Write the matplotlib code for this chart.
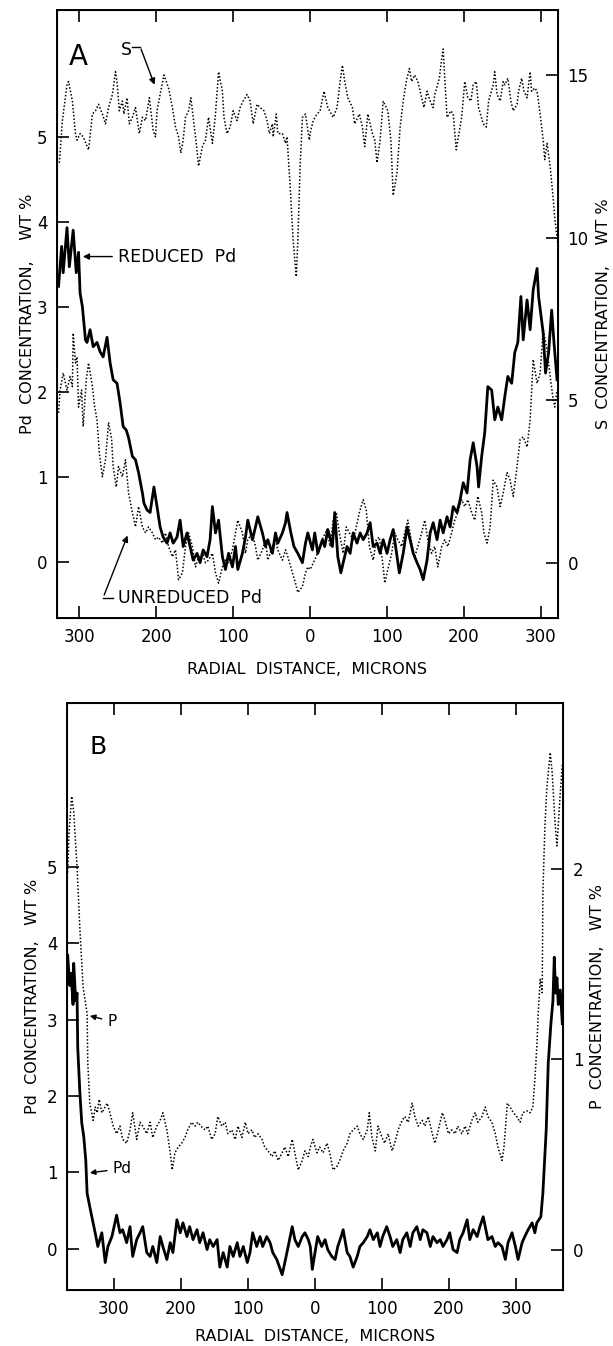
import numpy as np
import matplotlib
matplotlib.use("Agg")
import matplotlib.pyplot as plt
from matplotlib.ticker import FuncFormatter

# ---- panel A : (radial distance in microns, value) ----
S_A = [(-326, 12.3), (-322, 13.6), (-316, 14.7), (-314, 14.8), (-309, 14.2), (-305, 13.2), (-303, 13.0),
       (-299, 13.2), (-295, 13.1), (-288, 12.7), (-283, 13.8), (-279, 13.9), (-275, 14.1), (-270, 13.8),
       (-266, 13.5), (-262, 14.0), (-257, 14.4), (-253, 15.1), (-251, 14.8), (-248, 13.9), (-244, 14.2),
       (-242, 13.8), (-238, 14.3), (-235, 13.5), (-231, 13.7), (-227, 14.0), (-222, 13.2), (-218, 13.7),
       (-214, 13.6), (-209, 14.3), (-204, 13.3), (-201, 13.1), (-199, 13.9), (-195, 14.4), (-190, 15.0),
       (-184, 14.6), (-179, 14.0), (-175, 13.4), (-171, 13.1), (-168, 12.6), (-165, 13.0), (-162, 13.7),
       (-158, 13.9), (-155, 14.3), (-152, 13.7), (-148, 12.9), (-145, 12.2), (-140, 12.8), (-136, 13.0),
       (-132, 13.7), (-127, 12.9), (-123, 13.8), (-119, 15.1), (-114, 14.5), (-112, 13.7), (-108, 13.2),
       (-104, 13.4), (-100, 13.9), (-95, 13.6), (-91, 14.0), (-87, 14.2), (-82, 14.4), (-78, 14.2),
       (-74, 13.5), (-69, 14.1), (-65, 14.0), (-60, 13.9), (-56, 13.6), (-53, 13.2), (-49, 13.5),
       (-48, 13.1), (-44, 13.8), (-42, 13.2), (-36, 13.2), (-32, 12.9), (-30, 13.1), (-26, 11.6),
       (-22, 9.9), (-18, 8.8), (-16, 9.9), (-13, 12.2), (-10, 13.7), (-6, 13.8), (-1, 13.0), (0, 13.2),
       (4, 13.6), (9, 13.8), (13, 13.9), (18, 14.5), (23, 14.0), (30, 13.7), (35, 14.0), (39, 14.8),
       (42, 15.3), (45, 14.8), (49, 14.3), (55, 14.0), (58, 13.5), (64, 13.8), (68, 13.4), (71, 12.8),
       (75, 13.8), (81, 13.2), (84, 13.0), (87, 12.3), (91, 13.0), (95, 14.2), (99, 14.0), (101, 13.9),
       (105, 13.0), (108, 11.3), (113, 12.0), (117, 13.4), (121, 14.2), (125, 14.8), (129, 15.2),
       (132, 14.8), (136, 15.0), (140, 14.8), (145, 14.3), (148, 14.0), (152, 14.5), (156, 14.2),
       (160, 14.0), (162, 14.4), (168, 14.9), (171, 15.5), (173, 15.8), (175, 14.9), (178, 13.7),
       (183, 13.9), (186, 13.8), (190, 12.7), (192, 13.0), (197, 13.7), (201, 14.8), (205, 14.3),
       (209, 14.2), (212, 14.7), (216, 14.8), (219, 14.0), (225, 13.5), (229, 13.4), (232, 14.2),
       (238, 14.7), (240, 15.1), (243, 14.4), (247, 14.2), (251, 14.8), (253, 14.7), (257, 14.9),
       (261, 14.2), (264, 13.9), (269, 14.1), (271, 14.5), (275, 14.9), (278, 14.5), (282, 14.3),
       (286, 15.1), (288, 14.5), (292, 14.6), (295, 14.5), (299, 13.8), (303, 13.0), (305, 12.4),
       (308, 12.9), (312, 12.2), (316, 11.2), (318, 10.6), (322, 9.8)]

REDUCED_A = [(-327, 3.24), (-323, 3.71), (-321, 3.40), (-316, 3.93), (-313, 3.47), (-308, 3.90), (-304, 3.40),
             (-301, 3.64), (-299, 3.16), (-296, 3.00), (-292, 2.61), (-290, 2.58), (-286, 2.73), (-282, 2.53),
             (-277, 2.58), (-273, 2.47), (-269, 2.41), (-264, 2.64), (-260, 2.34), (-256, 2.14), (-251, 2.10),
             (-247, 1.87), (-243, 1.59), (-239, 1.55), (-236, 1.46), (-231, 1.24), (-227, 1.20), (-223, 1.05),
             (-218, 0.81), (-216, 0.69), (-212, 0.61), (-208, 0.58), (-203, 0.88), (-199, 0.65), (-195, 0.41),
             (-191, 0.29), (-186, 0.22), (-182, 0.34), (-178, 0.22), (-173, 0.29), (-169, 0.49), (-165, 0.18),
             (-160, 0.34), (-156, 0.18), (-152, 0.02), (-147, 0.10), (-143, -0.01), (-139, 0.14), (-134, 0.06),
             (-130, 0.26), (-127, 0.65), (-123, 0.34), (-119, 0.49), (-114, 0.06), (-110, -0.09), (-106, 0.10),
             (-101, -0.06), (-97, 0.18), (-94, -0.09), (-88, 0.10), (-84, 0.29), (-81, 0.49), (-75, 0.26),
             (-71, 0.41), (-68, 0.53), (-62, 0.34), (-58, 0.18), (-55, 0.26), (-49, 0.10), (-45, 0.34),
             (-42, 0.22), (-36, 0.34), (-32, 0.46), (-30, 0.58), (-25, 0.34), (-21, 0.18), (-16, 0.10),
             (-10, -0.01), (-6, 0.22), (-3, 0.34), (3, 0.14), (6, 0.34), (10, 0.10), (16, 0.26), (19, 0.18),
             (23, 0.38), (29, 0.18), (32, 0.58), (36, 0.06), (40, -0.13), (43, -0.01), (48, 0.18), (52, 0.10),
             (56, 0.34), (61, 0.22), (65, 0.34), (69, 0.26), (74, 0.34), (78, 0.46), (82, 0.18), (87, 0.22),
             (91, 0.10), (95, 0.26), (100, 0.10), (104, 0.26), (108, 0.38), (113, 0.06), (116, -0.13),
             (121, 0.10), (126, 0.41), (130, 0.26), (134, 0.10), (139, -0.01), (143, -0.09), (147, -0.21),
             (152, 0.02), (156, 0.34), (160, 0.46), (165, 0.26), (169, 0.49), (173, 0.34), (178, 0.53),
             (182, 0.41), (186, 0.65), (191, 0.58), (195, 0.73), (199, 0.93), (204, 0.81), (208, 1.20),
             (212, 1.40), (217, 1.12), (219, 0.88), (223, 1.24), (227, 1.52), (231, 2.06), (236, 2.02),
             (240, 1.67), (244, 1.82), (249, 1.67), (253, 1.94), (257, 2.18), (262, 2.10), (266, 2.46),
             (270, 2.58), (274, 3.12), (277, 2.61), (282, 3.08), (286, 2.73), (290, 3.20), (295, 3.45),
             (297, 3.12), (303, 2.69), (306, 2.22), (310, 2.46), (314, 2.96), (317, 2.58), (321, 2.14)]

UNREDUCED_A = [(-327, 1.75), (-325, 2.02), (-321, 2.22), (-316, 2.02), (-312, 2.18), (-309, 2.06), (-308, 2.69),
               (-305, 2.34), (-303, 2.41), (-301, 1.82), (-297, 2.02), (-295, 1.59), (-291, 2.14), (-288, 2.34),
               (-283, 2.06), (-280, 1.82), (-277, 1.67), (-274, 1.28), (-270, 1.00), (-266, 1.20), (-262, 1.64),
               (-258, 1.44), (-256, 1.12), (-252, 0.88), (-249, 1.12), (-244, 1.00), (-240, 1.20), (-236, 0.81),
               (-231, 0.58), (-227, 0.41), (-223, 0.65), (-218, 0.41), (-214, 0.34), (-210, 0.41), (-205, 0.34),
               (-201, 0.26), (-197, 0.29), (-192, 0.22), (-188, 0.34), (-184, 0.18), (-179, 0.06), (-175, 0.14),
               (-171, -0.21), (-166, -0.13), (-162, 0.18), (-158, 0.34), (-153, 0.18), (-149, -0.06),
               (-145, 0.06), (-140, 0.10), (-136, -0.01), (-132, 0.02), (-127, 0.10), (-123, -0.13),
               (-119, -0.25), (-114, -0.06), (-110, 0.02), (-106, -0.01), (-101, 0.14), (-97, 0.34), (-94, 0.49),
               (-88, 0.34), (-84, 0.10), (-81, 0.26), (-75, 0.34), (-71, 0.18), (-68, 0.02), (-62, 0.14),
               (-58, 0.26), (-55, 0.02), (-49, 0.18), (-45, 0.26), (-42, 0.14), (-36, 0.02), (-32, 0.14),
               (-29, 0.06), (-23, -0.13), (-19, -0.25), (-16, -0.36), (-10, -0.29), (-6, -0.13), (-3, -0.06),
               (0, -0.09), (6, 0.02), (13, 0.18), (17, 0.29), (22, 0.38), (26, 0.18), (30, 0.49), (34, 0.58),
               (38, 0.34), (43, 0.10), (47, 0.41), (51, 0.34), (56, 0.26), (60, 0.41), (64, 0.58), (69, 0.73),
               (73, 0.61), (77, 0.18), (82, 0.02), (86, 0.26), (90, 0.29), (95, -0.06), (97, -0.25), (101, -0.09),
               (106, 0.10), (110, 0.34), (114, 0.26), (119, 0.18), (123, 0.34), (127, 0.49), (132, 0.22),
               (136, 0.06), (140, 0.18), (145, 0.34), (149, 0.49), (153, 0.26), (158, 0.10), (162, 0.18),
               (166, -0.06), (171, 0.18), (175, 0.26), (179, 0.18), (184, 0.34), (188, 0.49), (192, 0.58),
               (197, 0.73), (201, 0.65), (205, 0.73), (210, 0.58), (214, 0.49), (218, 0.77), (223, 0.58),
               (226, 0.34), (230, 0.22), (234, 0.41), (238, 0.96), (243, 0.88), (247, 0.65), (251, 0.81),
               (256, 1.05), (260, 0.96), (264, 0.77), (269, 1.12), (273, 1.44), (277, 1.47), (282, 1.35),
               (286, 1.67), (290, 2.38), (295, 2.10), (299, 2.22), (303, 2.73), (308, 2.49), (312, 2.18),
               (316, 1.91), (318, 1.82), (321, 2.02)]

# ---- panel B ----
PD_B = [(-370, 3.60), (-369, 3.85), (-366, 3.45), (-364, 3.61), (-361, 3.20), (-360, 3.74), (-357, 3.25),
        (-355, 3.35), (-354, 2.64), (-351, 2.08), (-348, 1.65), (-345, 1.47), (-342, 1.16), (-340, 0.73),
        (-336, 0.55), (-331, 0.34), (-328, 0.21), (-324, 0.03), (-318, 0.21), (-313, -0.18), (-309, 0.03),
        (-303, 0.16), (-296, 0.44), (-291, 0.21), (-287, 0.25), (-281, 0.08), (-276, 0.29), (-272, -0.10),
        (-266, 0.12), (-261, 0.21), (-257, 0.29), (-251, -0.05), (-246, -0.10), (-242, 0.03), (-236, -0.18),
        (-231, 0.16), (-227, 0.03), (-221, -0.14), (-216, 0.08), (-212, -0.05), (-206, 0.38), (-201, 0.21),
        (-197, 0.34), (-191, 0.16), (-187, 0.29), (-182, 0.12), (-176, 0.25), (-172, 0.08), (-167, 0.21),
        (-161, -0.01), (-157, 0.12), (-152, 0.03), (-146, 0.12), (-142, -0.24), (-137, -0.05), (-131, -0.24),
        (-127, 0.03), (-122, -0.10), (-116, 0.08), (-112, -0.10), (-107, 0.03), (-101, -0.18), (-97, -0.05),
        (-93, 0.21), (-87, 0.03), (-82, 0.16), (-78, 0.03), (-72, 0.16), (-67, 0.08), (-63, -0.05),
        (-57, -0.14), (-49, -0.34), (-45, -0.18), (-40, 0.03), (-34, 0.29), (-30, 0.12), (-25, 0.03),
        (-19, 0.16), (-15, 0.21), (-10, 0.12), (-7, 0.03), (-4, -0.27), (0, -0.05), (4, 0.16), (10, 0.03),
        (15, 0.12), (19, -0.01), (25, -0.10), (30, -0.14), (34, 0.03), (39, 0.16), (42, 0.25), (48, -0.05),
        (52, -0.10), (57, -0.24), (63, -0.10), (67, 0.03), (72, 0.08), (78, 0.16), (82, 0.25), (87, 0.12),
        (93, 0.21), (97, 0.03), (101, 0.16), (107, 0.29), (112, 0.16), (116, 0.03), (122, 0.12),
        (127, -0.05), (131, 0.12), (137, 0.21), (142, 0.03), (146, 0.21), (152, 0.29), (157, 0.12),
        (161, 0.25), (167, 0.21), (172, 0.03), (176, 0.16), (182, 0.08), (187, 0.12), (191, 0.03),
        (197, 0.12), (201, 0.21), (206, -0.01), (212, -0.05), (216, 0.12), (221, 0.21), (227, 0.38),
        (231, 0.12), (236, 0.25), (242, 0.16), (246, 0.29), (251, 0.42), (254, 0.29), (258, 0.12),
        (264, 0.16), (269, 0.03), (273, 0.08), (279, 0.03), (284, -0.14), (288, 0.08), (294, 0.21),
        (299, 0.03), (303, -0.14), (309, 0.08), (313, 0.16), (318, 0.25), (324, 0.34), (328, 0.21),
        (331, 0.34), (337, 0.42), (340, 0.73), (345, 1.56), (348, 2.43), (352, 2.95), (355, 3.25),
        (357, 3.82), (359, 3.35), (361, 3.55), (363, 3.20), (366, 3.39), (369, 2.95)]

P_B = [(-369, 1.98), (-367, 2.19), (-363, 2.38), (-360, 2.30), (-355, 2.01), (-351, 1.70), (-346, 1.38),
       (-340, 1.24), (-339, 0.98), (-336, 0.77), (-331, 0.68), (-328, 0.75), (-325, 0.72), (-322, 0.79),
       (-318, 0.72), (-310, 0.77), (-306, 0.72), (-301, 0.65), (-296, 0.61), (-291, 0.65), (-287, 0.58),
       (-281, 0.56), (-276, 0.63), (-272, 0.72), (-266, 0.58), (-261, 0.67), (-257, 0.65), (-251, 0.61),
       (-246, 0.67), (-242, 0.59), (-236, 0.65), (-231, 0.68), (-227, 0.72), (-221, 0.63), (-216, 0.51),
       (-213, 0.42), (-209, 0.51), (-204, 0.54), (-199, 0.56), (-194, 0.59), (-190, 0.63), (-184, 0.67),
       (-179, 0.65), (-175, 0.67), (-170, 0.65), (-164, 0.63), (-160, 0.65), (-154, 0.58), (-149, 0.61),
       (-145, 0.70), (-139, 0.65), (-134, 0.67), (-130, 0.61), (-124, 0.63), (-119, 0.58), (-115, 0.65),
       (-109, 0.59), (-104, 0.67), (-100, 0.61), (-94, 0.63), (-90, 0.59), (-85, 0.61), (-79, 0.58),
       (-75, 0.54), (-70, 0.52), (-64, 0.49), (-60, 0.52), (-55, 0.47), (-49, 0.51), (-45, 0.54),
       (-40, 0.49), (-34, 0.58), (-30, 0.51), (-25, 0.42), (-19, 0.47), (-15, 0.52), (-10, 0.49),
       (-7, 0.54), (-3, 0.58), (3, 0.51), (7, 0.54), (12, 0.51), (18, 0.56), (22, 0.51), (27, 0.42),
       (33, 0.44), (37, 0.47), (42, 0.52), (48, 0.56), (52, 0.61), (57, 0.63), (63, 0.65), (67, 0.61),
       (72, 0.58), (78, 0.63), (81, 0.72), (85, 0.59), (90, 0.52), (94, 0.65), (100, 0.59), (104, 0.56),
       (109, 0.61), (115, 0.52), (119, 0.56), (124, 0.63), (130, 0.68), (134, 0.70), (139, 0.67),
       (145, 0.77), (149, 0.70), (154, 0.65), (160, 0.68), (164, 0.65), (169, 0.70), (175, 0.61),
       (179, 0.56), (184, 0.63), (190, 0.72), (194, 0.68), (199, 0.61), (204, 0.63), (209, 0.61),
       (213, 0.65), (219, 0.61), (224, 0.65), (228, 0.61), (234, 0.68), (239, 0.72), (243, 0.67),
       (249, 0.70), (254, 0.75), (258, 0.70), (264, 0.67), (269, 0.61), (273, 0.54), (279, 0.47),
       (282, 0.54), (287, 0.77), (291, 0.75), (296, 0.72), (301, 0.70), (306, 0.67), (310, 0.72),
       (316, 0.73), (321, 0.72), (325, 0.75), (328, 0.89), (331, 1.07), (333, 1.24), (336, 1.42),
       (339, 1.35), (340, 1.87), (343, 2.22), (346, 2.43), (351, 2.61), (354, 2.50), (358, 2.25),
       (361, 2.12), (366, 2.40), (369, 2.55)]

X_TICKS_A = [-300, -200, -100, 0, 100, 200, 300]
X_TICKS_B = [-300, -200, -100, 0, 100, 200, 300]
PD_TICKS_A = [0, 1, 2, 3, 4, 5]
S_TICKS_A = [0, 5, 10, 15]
PD_TICKS_B = [0, 1, 2, 3, 4, 5]
P_TICKS_B = [0, 1, 2]

FS = 11.5      # axis labels
TFS = 12       # tick labels
AFS = 12.5     # annotations
DOT = (0, (1, 1.3))


def xy(pairs):
    a = np.array(pairs, dtype=float)
    return a[:, 0], a[:, 1]


def style(ax):
    for s in ax.spines.values():
        s.set_linewidth(1.4)
    ax.tick_params(direction="in", length=8.5, width=1.2, labelsize=TFS,
                   top=True, bottom=True, pad=7)


absfmt = FuncFormatter(lambda v, p: f"{abs(int(round(v)))}")

fig = plt.figure(figsize=(6.13, 13.46), dpi=100)

# ---------------- panel A ----------------
ax = fig.add_axes([0.093, 0.5409, 0.817, 0.4517])
ax2 = ax.twinx()
x, y = xy(UNREDUCED_A)
ax.plot(x, y, color="black", lw=1.1, ls=DOT)
x, y = xy(REDUCED_A)
ax.plot(x, y, color="black", lw=2.0)
x, y = xy(S_A)
ax2.plot(x, y, color="black", lw=1.1, ls=DOT)

ax.set_xlim(-329, 322)
ax.set_ylim(-0.66, 6.49)
ax2.set_ylim(-1.69, 17.0)
ax.set_xticks(X_TICKS_A)
ax.xaxis.set_major_formatter(absfmt)
ax.set_yticks(PD_TICKS_A)
ax2.set_yticks(S_TICKS_A)
style(ax)
ax2.tick_params(direction="in", length=8.5, width=1.2, labelsize=TFS, pad=7)
ax.tick_params(axis="y", right=False)
ax.set_xlabel("RADIAL  DISTANCE,  MICRONS", fontsize=FS, labelpad=12)
ax.set_ylabel("Pd  CONCENTRATION,    WT %", fontsize=FS, labelpad=1)
ax2.set_ylabel("S  CONCENTRATION,    WT %", fontsize=FS, labelpad=5)

ax.text(-301, 5.94, "A", fontsize=20, ha="center", va="center")
ax.text(-239, 6.02, "S", fontsize=AFS, ha="center", va="center")
ax.plot([-231, -221], [6.06, 6.06], color="black", lw=1.0)
ax.annotate("", xy=(-201, 5.58), xytext=(-221, 6.06),
            arrowprops=dict(arrowstyle="-|>", color="black", lw=1.0, mutation_scale=9))
ax.annotate("REDUCED  Pd", xy=(-299, 3.59), xytext=(-250, 3.59), fontsize=AFS, va="center",
            arrowprops=dict(arrowstyle="-|>", color="black", lw=1.0, mutation_scale=9))
ax.text(-250, -0.43, "UNREDUCED  Pd", fontsize=AFS, va="center")
ax.plot([-256, -269], [-0.42, -0.42], color="black", lw=1.0)
ax.annotate("", xy=(-236, 0.34), xytext=(-269, -0.42),
            arrowprops=dict(arrowstyle="-|>", color="black", lw=1.0, mutation_scale=9))

# ---------------- panel B ----------------
bx = fig.add_axes([0.1093, 0.0416, 0.8091, 0.4361])
bx2 = bx.twinx()
x, y = xy(P_B)
bx2.plot(x, y, color="black", lw=1.1, ls=DOT)
x, y = xy(PD_B)
bx.plot(x, y, color="black", lw=2.0)

bx.set_xlim(-370, 370)
bx.set_ylim(-0.54, 7.15)
bx2.set_ylim(-0.21, 2.87)
bx.set_xticks(X_TICKS_B)
bx.xaxis.set_major_formatter(absfmt)
bx.set_yticks(PD_TICKS_B)
bx2.set_yticks(P_TICKS_B)
style(bx)
bx2.tick_params(direction="in", length=8.5, width=1.2, labelsize=TFS, pad=7)
bx.tick_params(axis="y", right=False)
bx.set_xlabel("RADIAL  DISTANCE,  MICRONS", fontsize=FS, labelpad=8)
bx.set_ylabel("Pd  CONCENTRATION,   WT %", fontsize=FS, labelpad=5)
bx2.set_ylabel("P  CONCENTRATION,   WT %", fontsize=FS, labelpad=5)

bx.text(-324, 6.58, "B", fontsize=18, ha="center", va="center")
bx.annotate("P", xy=(-340, 3.06), xytext=(-310, 2.98), fontsize=11, va="center",
            arrowprops=dict(arrowstyle="-|>", color="black", lw=1.0, mutation_scale=8))
bx.annotate("Pd", xy=(-340, 0.99), xytext=(-302, 1.05), fontsize=11, va="center",
            arrowprops=dict(arrowstyle="-|>", color="black", lw=1.0, mutation_scale=8))

fig.savefig("out.png", dpi=100)
